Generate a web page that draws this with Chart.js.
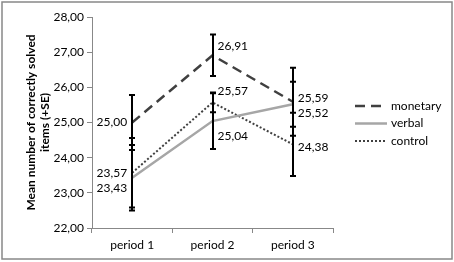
<!DOCTYPE html>
<html>
<head>
<meta charset="utf-8">
<script src="https://cdn.jsdelivr.net/npm/chart.js@4/dist/chart.umd.min.js"></script>
<style>
  html, body { margin: 0; padding: 0; background: #fff; }
  #wrap { width: 454px; height: 262px; position: relative; }
</style>
</head>
<body>
<div id="wrap"><canvas id="grafica" width="454" height="262"></canvas></div>
<script>
// categorias y valores
var periodos = ["period 1", "period 2", "period 3"];
var monetary = [25.00, 26.91, 25.59];
var verbal = [23.43, 25.04, 25.52];
var control = [23.57, 25.57, 24.38];
// error estandar de cada punto
var seMonetary = [0.78, 0.59, 0.97];
var seVerbal = [0.93, 0.79, 0.64];
var seControl = [0.99, 0.28, 0.90];
var yTicks = [22, 23, 24, 25, 26, 27, 28];

var fuente = "Lato, 'Open Sans', sans-serif";

function coma(v) {
  return v.toFixed(2).replace(".", ",");
}

// desplazamiento de cada etiqueta respecto al punto [dx, dy, align]
var posEtiquetas = [
  [[-5, 0, "right"], [5, -9, "left"], [5, -4, "left"]],
  [[-5, 10, "right"], [5, 15, "left"], [5, 9, "left"]],
  [[-5, 0, "right"], [5, -11, "left"], [5, 3, "left"]]
];

const errorBars = {
  id: "errorBars",
  afterDatasetsDraw(chart) {
    const ctx = chart.ctx;
    const y = chart.scales.y;
    ctx.save();
    ctx.strokeStyle = "#000";
    ctx.lineWidth = 2;
    chart.data.datasets.forEach(function (ds, i) {
      const meta = chart.getDatasetMeta(i);
      meta.data.forEach(function (pt, j) {
        const x = Math.round(pt.x);
        const top = y.getPixelForValue(ds.data[j] + ds.se[j]);
        const bot = y.getPixelForValue(ds.data[j] - ds.se[j]);
        ctx.beginPath();
        ctx.moveTo(x, top); ctx.lineTo(x, bot);
        ctx.moveTo(x - 3, top); ctx.lineTo(x + 3, top);
        ctx.moveTo(x - 3, bot); ctx.lineTo(x + 3, bot);
        ctx.stroke();
      });
    });
    // etiquetas de valores
    ctx.fillStyle = "#000";
    ctx.font = "12px " + fuente;
    ctx.textBaseline = "middle";
    chart.data.datasets.forEach(function (ds, i) {
      const meta = chart.getDatasetMeta(i);
      meta.data.forEach(function (pt, j) {
        const p = posEtiquetas[i][j];
        ctx.textAlign = p[2];
        ctx.fillText(coma(ds.data[j]), pt.x + p[0], pt.y + p[1]);
      });
    });
    ctx.restore();
  }
};

const leyenda = {
  id: "leyenda",
  afterDraw(chart) {
    const ctx = chart.ctx;
    ctx.save();
    chart.data.datasets.forEach(function (ds, i) {
      const yy = 106 + i * 17.5;
      ctx.strokeStyle = ds.borderColor;
      ctx.lineWidth = ds.borderWidth;
      ctx.setLineDash(ds.borderDash || []);
      ctx.beginPath();
      ctx.moveTo(355, yy); ctx.lineTo(387, yy);
      ctx.stroke();
      ctx.setLineDash([]);
      ctx.fillStyle = "#000";
      ctx.font = "12px " + fuente;
      ctx.textBaseline = "middle";
      ctx.textAlign = "left";
      ctx.fillText(ds.label, 391, yy);
    });
    // marco exterior
    ctx.strokeStyle = "#888";
    ctx.lineWidth = 1.5;
    ctx.strokeRect(2, 2, 450, 257);
    ctx.restore();
  }
};

new Chart(document.getElementById("grafica"), {
  type: "line",
  data: {
    labels: periodos,
    datasets: [
      { label: "monetary", data: monetary, se: seMonetary, borderColor: "#404040", borderWidth: 2.5, borderDash: [10, 6] },
      { label: "verbal", data: verbal, se: seVerbal, borderColor: "#a6a6a6", borderWidth: 2.5 },
      { label: "control", data: control, se: seControl, borderColor: "#404040", borderWidth: 2, borderDash: [2, 2] }
    ]
  },
  options: {
    responsive: false,
    animation: false,
    layout: { padding: { left: 22, right: 121, top: 17, bottom: 6 } },
    elements: { point: { radius: 0 }, line: { tension: 0 } },
    plugins: { legend: { display: false }, tooltip: { enabled: false } },
    scales: {
      x: {
        offset: true,
        grid: { display: true, drawOnChartArea: false, offset: true, color: "#888", tickLength: 5 },
        border: { color: "#888" },
        ticks: { color: "#000", font: { family: fuente, size: 12 }, padding: 5 },
        afterFit(s) { s.height = 28; }
      },
      y: {
        min: 22, max: 28,
        afterBuildTicks(s) { s.ticks = yTicks.map(function (v) { return { value: v }; }); },
        grid: { display: true, drawOnChartArea: false, color: "#888", tickLength: 5 },
        border: { color: "#888" },
        ticks: { color: "#000", font: { family: fuente, size: 12 }, padding: 3, callback: function (v) { return coma(v); } },
        title: {
          display: true,
          text: ["Mean number of correctly solved", "items (+SE)"],
          color: "#000",
          font: { family: fuente, size: 12, weight: "bold" },
          padding: 2
        },
        afterFit(s) { s.width = 70; }
      }
    }
  },
  plugins: [errorBars, leyenda]
});
</script>
</body>
</html>
